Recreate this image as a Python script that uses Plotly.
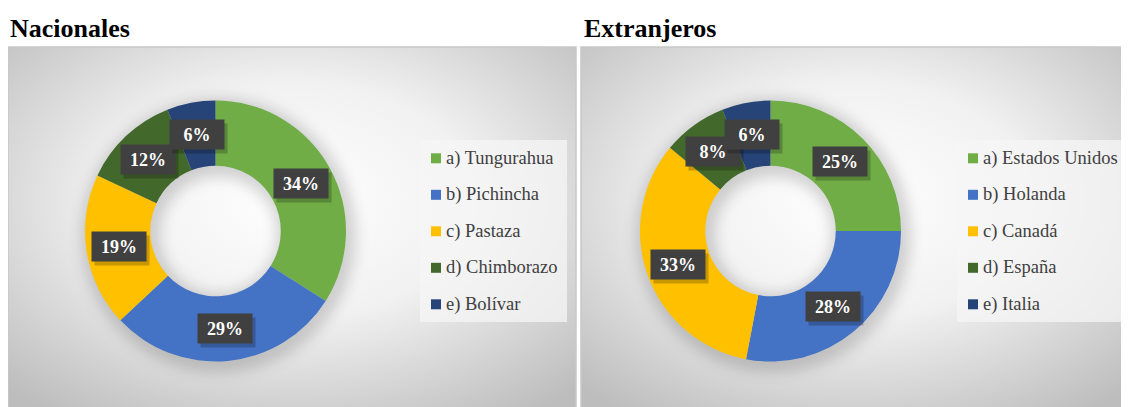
import math
import base64
import plotly.graph_objects as go

# The page body adds an 8px margin, so the figure is drawn 8px right/down.
SCREEN_W, SCREEN_H = 1129, 407
OFF = 8
W, H = SCREEN_W - OFF, SCREEN_H - OFF

# ---------------- data ----------------
nac_title = "Nacionales"
nac_labels = ["a) Tungurahua", "b) Pichincha", "c) Pastaza", "d) Chimborazo", "e) Bolívar"]
nac_values = [34, 29, 19, 12, 6]

ext_title = "Extranjeros"
ext_labels = ["a) Estados Unidos", "b) Holanda", "c) Canadá", "d) España", "e) Italia"]
ext_values = [25, 28, 33, 8, 6]

colors = ["#70AD47", "#4472C4", "#FFC000", "#43682B", "#264478"]

# ---------------- layout constants (screen pixels) ----------------
R = 130.5
HOLE = 0.5
SERIF = "Liberation Serif, Times New Roman, serif"

panels = [
    dict(title=nac_title, labels=nac_labels, values=nac_values,
         cx=215.5, cy=231.0, px0=8, px1=576, title_x=8,
         leg_box=(420, 140, 567, 322), leg_mx=431, leg_tx=444),
    dict(title=ext_title, labels=ext_labels, values=ext_values,
         cx=770.5, cy=231.0, px0=581, px1=1129, title_x=582,
         leg_box=(957, 140, 1126, 322), leg_mx=968, leg_tx=981),
]
PANEL_TOP = 47
LEG_ROW0 = 158.3
LEG_STEP = 36.5


def px2x(px):
    return (px - OFF) / W


def py2y(py):
    return 1 - (py - OFF) / H


# ---------------- background (svg gradient image, figure coords) ----------------
svg_parts = [
    f"<svg xmlns='http://www.w3.org/2000/svg' width='{W}' height='{H}' viewBox='0 0 {W} {H}'>",
    "<defs>",
    "<radialGradient id='g' cx='0.5' cy='0.42' r='0.72'>"
    "<stop offset='0' stop-color='#ffffff'/>"
    "<stop offset='0.45' stop-color='#f1f1f1'/>"
    "<stop offset='1' stop-color='#bdbdbd'/></radialGradient>",
    "<filter id='b' x='-30%' y='-30%' width='160%' height='160%'><feGaussianBlur stdDeviation='7'/></filter>",
    "</defs>",
]
for p in panels:
    w = p["px1"] - p["px0"]
    svg_parts.append(
        f"<rect x='{p['px0'] - OFF}' y='{PANEL_TOP - OFF}' width='{w}' height='{H - PANEL_TOP + OFF + 4}' "
        f"fill='url(#g)' stroke='#c8c8c8' stroke-width='1.5'/>")
    rm = R * (1 + HOLE) / 2
    svg_parts.append(
        f"<circle cx='{p['cx'] + 3 - OFF}' cy='{p['cy'] + 4 - OFF}' r='{rm}' fill='none' stroke='#000' "
        f"stroke-opacity='0.16' stroke-width='{R * (1 - HOLE) + 14}' filter='url(#b)'/>")
svg_parts.append("</svg>")
svg = "".join(svg_parts)
bg_src = "data:image/svg+xml;base64," + base64.b64encode(svg.encode("utf-8")).decode("ascii")

fig = go.Figure()
annotations = []
shapes = []

for p in panels:
    cx, cy = p["cx"], p["cy"]
    fig.add_trace(go.Pie(
        labels=p["labels"], values=p["values"],
        hole=HOLE, sort=False, direction="clockwise", rotation=0,
        marker=dict(colors=colors, line=dict(width=0)),
        textinfo="none", showlegend=False,
        domain=dict(x=[px2x(cx - R), px2x(cx + R)], y=[py2y(cy + R), py2y(cy - R)]),
    ))

    # data labels, centred on each slice's mid-angle at mid-ring radius
    total = sum(p["values"])
    cum = 0
    rm = R * (1 + HOLE) / 2
    for i, v in enumerate(p["values"]):
        theta = 2 * math.pi * (cum + v / 2) / total
        cum += v
        lx = cx + rm * math.sin(theta)
        ly = cy - rm * math.cos(theta)
        annotations.append(dict(
            x=px2x(lx + 3), y=py2y(ly + 4), xref="paper", yref="paper",
            text=" ", showarrow=False, bgcolor="rgba(0,0,0,0.22)",
            width=52, height=27, borderpad=1, xanchor="center", yanchor="middle",
        ))
        annotations.append(dict(
            x=px2x(lx), y=py2y(ly), xref="paper", yref="paper",
            text=f"<b>{round(100 * v / total)}%</b>", showarrow=False,
            font=dict(family=SERIF, size=18, color="white"),
            bgcolor="#404040", width=52, height=27, borderpad=1,
            xanchor="center", yanchor="middle",
        ))

    # title
    annotations.append(dict(
        x=px2x(p["title_x"]), y=py2y(29), xref="paper", yref="paper",
        text=f"<b>{p['title']}</b>", showarrow=False,
        font=dict(family=SERIF, size=26, color="black"),
        xanchor="left", yanchor="middle",
    ))

    # legend box
    bx0, by0, bx1, by1 = p["leg_box"]
    shapes.append(dict(type="rect", xref="paper", yref="paper",
                       x0=px2x(bx0), x1=px2x(bx1), y0=py2y(by1), y1=py2y(by0),
                       fillcolor="rgba(245,245,245,0.75)", line=dict(width=0), layer="below"))
    for i, lab in enumerate(p["labels"]):
        ry = LEG_ROW0 + i * LEG_STEP
        shapes.append(dict(type="rect", xref="paper", yref="paper",
                           x0=px2x(p["leg_mx"]), x1=px2x(p["leg_mx"] + 10),
                           y0=py2y(ry + 5), y1=py2y(ry - 5),
                           fillcolor=colors[i], line=dict(width=0)))
        annotations.append(dict(
            x=px2x(p["leg_tx"]), y=py2y(ry), xref="paper", yref="paper",
            text=lab, showarrow=False,
            font=dict(family=SERIF, size=18.5, color="#404040"),
            xanchor="left", yanchor="middle",
        ))

fig.update_layout(
    width=W, height=H,
    margin=dict(l=0, r=0, t=0, b=0),
    paper_bgcolor="white", plot_bgcolor="rgba(0,0,0,0)",
    images=[dict(source=bg_src, xref="paper", yref="paper", x=0, y=1,
                 sizex=1, sizey=1, sizing="stretch", xanchor="left", yanchor="top",
                 layer="below")],
    annotations=annotations,
    shapes=shapes,
)

fig.write_html("out.html")
